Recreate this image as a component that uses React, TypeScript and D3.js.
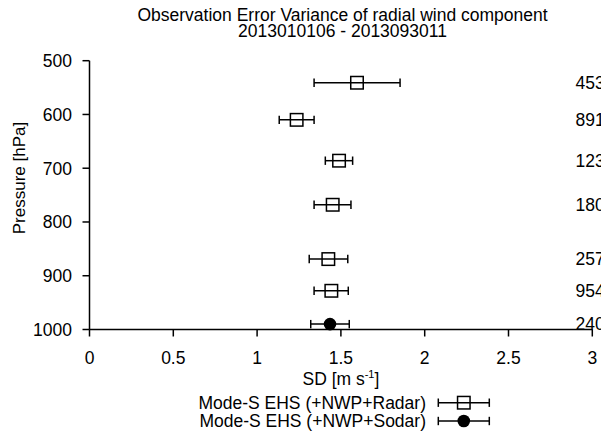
import React from "react";
import * as d3 from "d3";

const titleLines = ["Observation Error Variance of radial wind component", "2013010106 - 2013093011"];
const pressure = [541, 610, 686, 768, 869, 928, 990];
const sd = [1.596, 1.236, 1.489, 1.451, 1.425, 1.443, 1.435];
const sdLow = [1.34, 1.132, 1.407, 1.34, 1.311, 1.34, 1.32];
const sdHigh = [1.853, 1.34, 1.57, 1.56, 1.541, 1.544, 1.55];
const seriesOf = ["radar", "radar", "radar", "radar", "radar", "radar", "sodar"];
const counts = ["453", "891", "123", "180", "257", "954", "240"];
const xTicks = [0, 0.5, 1, 1.5, 2, 2.5, 3];
const yTicks = [500, 600, 700, 800, 900, 1000];
const legendItems = [
  { key: "radar", label: "Mode-S EHS (+NWP+Radar)" },
  { key: "sodar", label: "Mode-S EHS (+NWP+Sodar)" },
];

const W = 601;
const H = 434;
const FONT = "'Liberation Sans', Arial, Helvetica, sans-serif";
const FS = 17.5;

export default function App() {
  const x = d3.scaleLinear().domain([0, 3]).range([89.5, 592.3]);
  const y = d3.scaleLinear().domain([500, 1000]).range([60.7, 329.5]);
  const fmt = d3.format("~g");
  const sq = 12.5;
  const cap = 4.2;
  const lw = 1.5;

  const marker = (kind: string, cx: number, cy: number, k: string) =>
    kind === "radar" ? (
      <rect key={k} x={cx - sq / 2} y={cy - sq / 2} width={sq} height={sq} fill="none" stroke="#000" strokeWidth={lw} />
    ) : (
      <circle key={k} cx={cx} cy={cy} r={6.3} fill="#000" />
    );

  const errBar = (lo: number, hi: number, cy: number, k: string) => (
    <g key={k} stroke="#000" strokeWidth={lw}>
      <line x1={lo} x2={hi} y1={cy} y2={cy} />
      <line x1={lo} x2={lo} y1={cy - cap} y2={cy + cap} />
      <line x1={hi} x2={hi} y1={cy - cap} y2={cy + cap} />
    </g>
  );

  const legX = d3.scaleLinear().domain([0, 1]).range([438.3, 489.3]);
  const legY = d3.scalePoint<string>().domain(legendItems.map((d) => d.key)).range([402.7, 421]);

  return (
    <svg width={W} height={H} style={{ position: "absolute", left: 0, top: 0, background: "#fff" }} fontFamily={FONT}>
      <rect x={0} y={0} width={W} height={H} fill="#fff" />
      {/* title */}
      <text x={342.5} y={21} textAnchor="middle" fontSize={FS}>
        {titleLines[0]}
      </text>
      <text x={342.5} y={37} textAnchor="middle" fontSize={FS}>
        {titleLines[1]}
      </text>

      {/* axes */}
      <line x1={x(0)} x2={x(0)} y1={y(500)} y2={y(1000)} stroke="#000" strokeWidth={lw} />
      <line x1={x(0)} x2={x(3)} y1={y(1000)} y2={y(1000)} stroke="#000" strokeWidth={lw} />
      {yTicks.map((t) => (
        <g key={"yt" + t}>
          <line x1={x(0) - 7} x2={x(0)} y1={y(t)} y2={y(t)} stroke="#000" strokeWidth={lw} />
          <text x={72} y={y(t)} dy="0.36em" textAnchor="end" fontSize={FS}>
            {t}
          </text>
        </g>
      ))}
      {xTicks.map((t) => (
        <g key={"xt" + t}>
          <line x1={x(t)} x2={x(t)} y1={y(1000)} y2={y(1000) + 7} stroke="#000" strokeWidth={lw} />
          <text x={x(t)} y={363.5} textAnchor="middle" fontSize={FS}>
            {fmt(t)}
          </text>
        </g>
      ))}
      <text transform={`translate(25, 178) rotate(-90)`} textAnchor="middle" fontSize={17}>
        Pressure [hPa]
      </text>
      <text x={(x(0) + x(3)) / 2} y={385} textAnchor="middle" fontSize={FS}>
        SD [m s
        <tspan dy={-7} fontSize={11}>-1</tspan>
        <tspan dy={7}>]</tspan>
      </text>

      {/* data */}
      {pressure.map((p, i) => (
        <g key={"pt" + i}>
          {errBar(x(sdLow[i]), x(sdHigh[i]), y(p), "e" + i)}
          {marker(seriesOf[i], x(sd[i]), y(p), "m" + i)}
          <text x={x(2.9)} y={y(p)} dy="0.36em" fontSize={FS}>
            {counts[i]}
          </text>
        </g>
      ))}

      {/* legend */}
      {legendItems.map((it) => {
        const cy = legY(it.key) as number;
        return (
          <g key={"lg" + it.key}>
            <text x={426} y={cy} dy="0.36em" textAnchor="end" fontSize={FS}>
              {it.label}
            </text>
            {errBar(legX(0), legX(1), cy, "le" + it.key)}
            {marker(it.key, legX(0.5), cy, "lm" + it.key)}
          </g>
        );
      })}
    </svg>
  );
}
